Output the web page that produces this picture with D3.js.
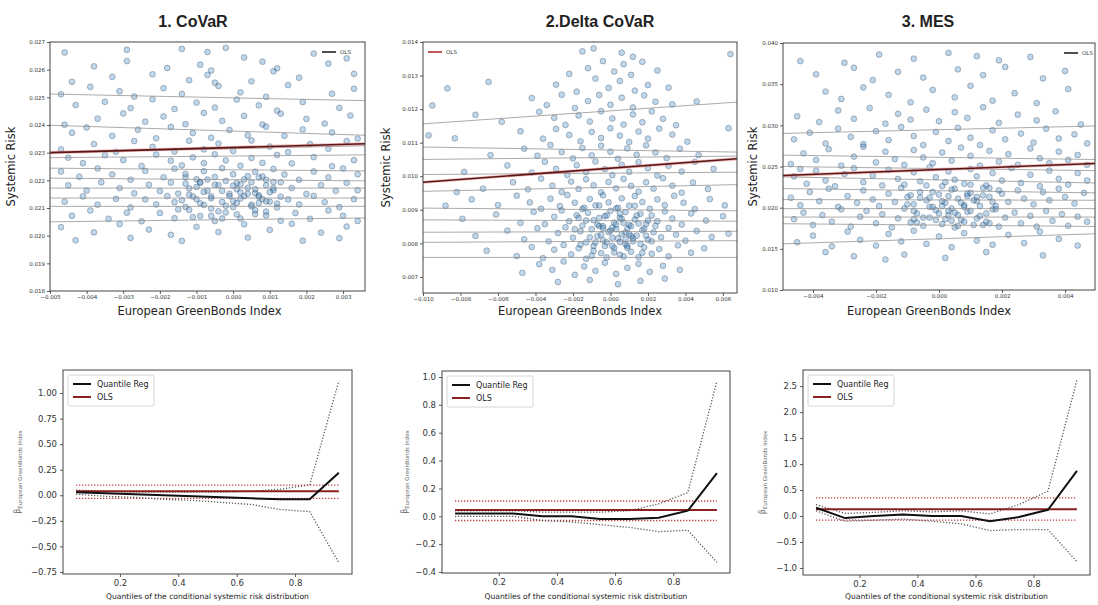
<!DOCTYPE html>
<html><head><meta charset="utf-8">
<script src="https://cdn.jsdelivr.net/npm/d3@7"></script>
<style>body{margin:0;background:#fff}svg{display:block}</style>
</head><body>
<script>
// ---------------- DATA ----------------
const titles = ["1. CoVaR", "2.Delta CoVaR", "3. MES"];
const xLabelTop = "European GreenBonds Index";
const yLabelTop = "Systemic Risk";
const xLabelBottom = "Quantiles of the conditional systemic risk distribution";
const legendQR = "Quantile Reg";
const legendOLS = "OLS";

// top scatter x/y ticks
const p1XTicks = [-0.005,-0.004,-0.003,-0.002,-0.001,0.000,0.001,0.002,0.003];
const p1YTicks = [0.018,0.019,0.020,0.021,0.022,0.023,0.024,0.025,0.026,0.027];
const p2XTicks = [-0.010,-0.008,-0.006,-0.004,-0.002,0.000,0.002,0.004,0.006];
const p2YTicks = [0.007,0.008,0.009,0.010,0.011,0.012,0.013,0.014];
const p3XTicks = [-0.004,-0.002,0.000,0.002,0.004];
const p3YTicks = [0.010,0.015,0.020,0.025,0.030,0.035,0.040];

// scatter points [index return, systemic risk]
const p1Points = [
[-0.0046,0.02662],[-0.0029,0.02672],[-0.0014,0.02675],[-0.0002,0.02679],[0.0022,0.02658],[-0.0007,0.02664],[0.0031,0.02641],
[-0.0038,0.02612],[-0.0029,0.02631],[-0.0018,0.02606],[-0.0009,0.02618],[-0.0006,0.02597],[0.0003,0.02644],[0.0008,0.02629],[0.0026,0.02622],[0.0012,0.02605],
[-0.0044,0.02556],[-0.0033,0.02574],[-0.0022,0.02583],[-0.0012,0.02562],[-0.0007,0.02581],[0.0005,0.02558],[0.0011,0.02594],[0.0018,0.02571],[0.0033,0.02585],[-0.0005,0.02553],
[-0.0047,0.02511],[-0.0039,0.02538],[-0.0031,0.02522],[-0.0027,0.02503],[-0.0019,0.02533],[-0.0014,0.02512],[-0.0004,0.02541],[0.0002,0.02518],[0.0009,0.02502],[0.0015,0.02544],[0.0027,0.02513],[0.0033,0.02531],
[-0.0043,0.02472],[-0.0035,0.02484],[-0.0028,0.02461],[-0.0022,0.02493],[-0.0016,0.02458],[-0.0010,0.02481],[-0.0005,0.02463],[0.0001,0.02492],[0.0007,0.02471],[0.0012,0.02452],[0.0019,0.02483],[0.0029,0.02462],
[-0.0046,0.02401],[-0.0037,0.02423],[-0.0030,0.02442],[-0.0024,0.02412],[-0.0019,0.02431],[-0.0013,0.02403],[-0.0008,0.02444],[-0.0003,0.02415],[0.0003,0.02433],[0.0008,0.02402],[0.0013,0.02441],[0.0020,0.02422],[0.0025,0.02405],[0.0032,0.02434],
[-0.0044,0.02372],[-0.0040,0.02391],[-0.0033,0.02361],[-0.0026,0.02383],[-0.0021,0.02352],[-0.0017,0.02393],[-0.0011,0.02371],[-0.0006,0.02354],[-0.0001,0.02382],[0.0004,0.02363],[0.0009,0.02394],[0.0014,0.02361],[0.0019,0.02384],[0.0027,0.02373],[0.0034,0.02351],
[-0.0047,0.02312],[-0.0038,0.02331],[-0.0032,0.02303],[-0.0027,0.02342],[-0.0022,0.02321],[-0.0016,0.02304],[-0.0012,0.02343],[-0.0008,0.02312],[-0.0004,0.02333],[0.0000,0.02306],[0.0005,0.02344],[0.0010,0.02322],[0.0015,0.02302],[0.0021,0.02331],[0.0026,0.02314],[0.0031,0.02342],
[-0.0045,0.02282],[-0.0041,0.02262],[-0.0035,0.02291],[-0.0030,0.02273],[-0.0025,0.02252],[-0.0021,0.02293],[-0.0017,0.02271],[-0.0014,0.02254],[-0.0011,0.02283],[-0.0008,0.02262],[-0.0005,0.02294],[-0.0002,0.02272],[0.0002,0.02253],[0.0005,0.02281],[0.0008,0.02263],[0.0012,0.02292],[0.0016,0.02261],[0.0022,0.02284],[0.0027,0.02251],[0.0033,0.02273],
[-0.0047,0.02232],[-0.0042,0.02213],[-0.0037,0.02243],[-0.0033,0.02221],[-0.0028,0.02202],[-0.0024,0.02234],[-0.0019,0.02211],[-0.0016,0.02242],[-0.0013,0.02223],[-0.0010,0.02204],[-0.0008,0.02233],[-0.0005,0.02212],[-0.0003,0.02244],[0.0000,0.02222],[0.0003,0.02203],[0.0006,0.02231],[0.0008,0.02214],[0.0011,0.02241],[0.0014,0.02221],[0.0018,0.02202],[0.0022,0.02232],[0.0026,0.02211],[0.0030,0.02243],[0.0034,0.02222],
[-0.0045,0.02182],[-0.0040,0.02163],[-0.0036,0.02193],[-0.0031,0.02172],[-0.0027,0.02153],[-0.0023,0.02184],[-0.0020,0.02161],[-0.0017,0.02192],[-0.0015,0.02152],[-0.0012,0.02171],[-0.0009,0.02194],[-0.0007,0.02162],[-0.0004,0.02183],[-0.0001,0.02151],[0.0001,0.02191],[0.0004,0.02173],[0.0006,0.02154],[0.0009,0.02182],[0.0011,0.02164],[0.0013,0.02193],[0.0016,0.02172],[0.0020,0.02151],[0.0024,0.02183],[0.0028,0.02162],[0.0031,0.02191],[0.0034,0.02164],
[-0.0046,0.02123],[-0.0041,0.02142],[-0.0037,0.02112],[-0.0032,0.02133],[-0.0028,0.02102],[-0.0024,0.02131],[-0.0021,0.02113],[-0.0018,0.02143],[-0.0016,0.02121],[-0.0013,0.02104],[-0.0010,0.02132],[-0.0008,0.02111],[-0.0006,0.02142],[-0.0003,0.02122],[0.0000,0.02103],[0.0002,0.02134],[0.0005,0.02112],[0.0007,0.02141],[0.0010,0.02123],[0.0012,0.02102],[0.0015,0.02131],[0.0018,0.02113],[0.0022,0.02144],[0.0025,0.02121],[0.0029,0.02103],[0.0033,0.02132],
[-0.0044,0.02072],[-0.0039,0.02091],[-0.0034,0.02061],[-0.0029,0.02083],[-0.0025,0.02052],[-0.0020,0.02082],[-0.0016,0.02063],[-0.0012,0.02093],[-0.0009,0.02071],[-0.0005,0.02053],[-0.0002,0.02084],[0.0002,0.02062],[0.0006,0.02092],[0.0009,0.02073],[0.0013,0.02054],[0.0017,0.02082],[0.0021,0.02061],[0.0026,0.02091],[0.0030,0.02072],[0.0034,0.02053],
[-0.0047,0.02031],[-0.0038,0.02012],[-0.0031,0.02042],[-0.0023,0.02022],[-0.0017,0.02003],[-0.0010,0.02032],[-0.0004,0.02013],[0.0003,0.02041],[0.0010,0.02021],[0.0016,0.02043],[0.0024,0.02011],[0.0031,0.02033],
[-0.0043,0.01983],[-0.0028,0.01992],[-0.0014,0.01981],[0.0004,0.01993],[0.0019,0.01982],[0.0029,0.01991],
[-0.0011,0.02142],[-0.0006,0.02098],[0.0001,0.02168],[0.0007,0.02118],[-0.0013,0.02188],[0.0009,0.02202],[-0.0003,0.02062],[0.0004,0.02152],
[-0.0015,0.02095],[-0.0012,0.02148],[-0.0010,0.02176],[-0.0009,0.02117],[-0.0007,0.02203],[-0.0006,0.02135],[-0.0004,0.02088],[-0.0003,0.02162],[-0.0002,0.02198],[0.0000,0.02125],[0.0001,0.02077],[0.0002,0.02185],[0.0003,0.02143],[0.0005,0.02106],[0.0006,0.02168],[0.0007,0.02211],[0.0008,0.02132],[0.0009,0.02087],[0.0010,0.02157],[0.0011,0.02194],[0.0012,0.02116],[-0.0014,0.02128],[-0.0011,0.02067],[-0.0008,0.02158],[-0.0005,0.02184],[-0.0001,0.02143],[0.0004,0.02215],[0.0006,0.02078],[0.0009,0.02124],[0.0011,0.02172],[-0.0013,0.02211],[-0.0002,0.02108],[0.0002,0.02156],[0.0007,0.02146],[-0.0006,0.02071],[0.0000,0.02181],[0.0013,0.02141],[0.0005,0.02193],[-0.0009,0.02191],[0.0001,0.02118]
];

const p2Points = [
[-0.0015,0.01372],[-0.0009,0.01381],[0.0006,0.01368],[0.0012,0.01356],[0.0064,0.01364],
[-0.0012,0.01322],[-0.0004,0.01343],[0.0002,0.01312],[0.0007,0.01334],[0.0011,0.01302],[0.0017,0.01341],[0.0025,0.01315],[-0.0022,0.01305],
[-0.0087,0.01262],[-0.0065,0.01281],[-0.0029,0.01273],[-0.0018,0.01252],[-0.0008,0.01291],[-0.0001,0.01263],[0.0005,0.01284],[0.0013,0.01255],[0.0020,0.01272],[0.0031,0.01264],
[-0.0095,0.01211],[-0.0042,0.01233],[-0.0034,0.01212],[-0.0026,0.01243],[-0.0019,0.01203],[-0.0012,0.01224],[-0.0006,0.01242],[0.0000,0.01213],[0.0006,0.01234],[0.0012,0.01205],[0.0018,0.01241],[0.0024,0.01222],[0.0033,0.01214],[0.0046,0.01223],
[-0.0072,0.01183],[-0.0058,0.01162],[-0.0038,0.01192],[-0.0030,0.01174],[-0.0024,0.01153],[-0.0017,0.01181],[-0.0011,0.01163],[-0.0005,0.01194],[0.0001,0.01172],[0.0007,0.01154],[0.0012,0.01184],[0.0017,0.01161],[0.0022,0.01193],[0.0028,0.01171],[0.0035,0.01152],[0.0063,0.01143],
[-0.0097,0.01122],[-0.0083,0.01113],[-0.0048,0.01134],[-0.0036,0.01112],[-0.0029,0.01141],[-0.0022,0.01123],[-0.0016,0.01104],[-0.0010,0.01132],[-0.0005,0.01114],[0.0000,0.01143],[0.0005,0.01121],[0.0010,0.01102],[0.0015,0.01133],[0.0020,0.01112],[0.0026,0.01142],[0.0033,0.01124],[0.0041,0.01103],
[-0.0064,0.01063],[-0.0046,0.01082],[-0.0039,0.01061],[-0.0032,0.01093],[-0.0026,0.01072],[-0.0020,0.01053],[-0.0015,0.01084],[-0.0010,0.01062],[-0.0005,0.01091],[0.0000,0.01073],[0.0004,0.01052],[0.0009,0.01083],[0.0014,0.01064],[0.0019,0.01092],[0.0024,0.01071],[0.0030,0.01054],[0.0037,0.01082],[0.0047,0.01063],
[-0.0078,0.01013],[-0.0055,0.01032],[-0.0042,0.01011],[-0.0035,0.01043],[-0.0029,0.01022],[-0.0023,0.01004],[-0.0018,0.01033],[-0.0013,0.01012],[-0.0008,0.01044],[-0.0003,0.01021],[0.0001,0.01003],[0.0006,0.01034],[0.0010,0.01013],[0.0015,0.01042],[0.0020,0.01024],[0.0025,0.01002],[0.0031,0.01031],[0.0038,0.01014],[0.0045,0.01043],[0.0055,0.01022],
[-0.0068,0.00963],[-0.0052,0.00982],[-0.0044,0.00961],[-0.0037,0.00993],[-0.0031,0.00972],[-0.0026,0.00953],[-0.0021,0.00984],[-0.0017,0.00962],[-0.0013,0.00991],[-0.0009,0.00973],[-0.0005,0.00952],[-0.0001,0.00983],[0.0003,0.00964],[0.0007,0.00992],[0.0011,0.00971],[0.0015,0.00954],[0.0019,0.00982],[0.0023,0.00963],[0.0028,0.00994],[0.0033,0.00972],[0.0038,0.00951],[0.0044,0.00981],[0.0052,0.00962],[-0.0082,0.00953],
[-0.0088,0.00912],[-0.0074,0.00931],[-0.0060,0.00914],[-0.0050,0.00942],[-0.0043,0.00922],[-0.0037,0.00903],[-0.0032,0.00933],[-0.0027,0.00911],[-0.0023,0.00944],[-0.0019,0.00921],[-0.0015,0.00902],[-0.0011,0.00932],[-0.0008,0.00913],[-0.0004,0.00943],[-0.0001,0.00922],[0.0003,0.00904],[0.0006,0.00934],[0.0010,0.00912],[0.0013,0.00941],[0.0017,0.00923],[0.0021,0.00903],[0.0025,0.00931],[0.0029,0.00914],[0.0034,0.00942],[0.0039,0.00921],[0.0045,0.00902],[0.0053,0.00932],[0.0061,0.00913],
[-0.0079,0.00873],[-0.0061,0.00886],[-0.0048,0.00861],[-0.0041,0.00894],[-0.0035,0.00857],[-0.0030,0.00879],[-0.0026,0.00898],[-0.0022,0.00866],[-0.0018,0.00884],[-0.0015,0.00853],[-0.0012,0.00891],[-0.0009,0.00869],[-0.0006,0.00852],[-0.0003,0.00881],[0.0000,0.00897],[0.0002,0.00862],[0.0005,0.00876],[0.0008,0.00893],[0.0010,0.00855],[0.0013,0.00871],[0.0016,0.00888],[0.0019,0.00858],[0.0022,0.00883],[0.0025,0.00866],[0.0029,0.00895],[0.0033,0.00874],[0.0038,0.00856],[0.0043,0.00889],[0.0051,0.00868],[0.0060,0.00881],
[-0.0072,0.00822],[-0.0055,0.00838],[-0.0046,0.00812],[-0.0039,0.00845],[-0.0033,0.00806],[-0.0028,0.00831],[-0.0024,0.00848],[-0.0020,0.00817],[-0.0016,0.00836],[-0.0013,0.00803],[-0.0010,0.00842],[-0.0007,0.00821],[-0.0004,0.00809],[-0.0001,0.00834],[0.0001,0.00847],[0.0004,0.00815],[0.0006,0.00828],[0.0009,0.00844],[0.0012,0.00806],[0.0014,0.00823],[0.0017,0.00839],[0.0020,0.00811],[0.0023,0.00833],[0.0027,0.00818],[0.0031,0.00846],[0.0035,0.00826],[0.0040,0.00808],[0.0046,0.00837],[0.0054,0.00819],[0.0063,0.00829],
[-0.0066,0.00778],[-0.0050,0.00762],[-0.0042,0.00789],[-0.0036,0.00756],[-0.0030,0.00781],[-0.0025,0.00795],[-0.0021,0.00767],[-0.0017,0.00785],[-0.0013,0.00754],[-0.0009,0.00792],[-0.0005,0.00771],[-0.0002,0.00758],[0.0002,0.00786],[0.0005,0.00766],[0.0008,0.00797],[0.0011,0.00775],[0.0015,0.00759],[0.0018,0.00788],[0.0022,0.00769],[0.0026,0.00783],[0.0031,0.00761],[0.0036,0.00794],[0.0043,0.00772],[0.0050,0.00785],
[-0.0047,0.00712],[-0.0038,0.00738],[-0.0031,0.00721],[-0.0025,0.00746],[-0.0019,0.00706],[-0.0014,0.00731],[-0.0008,0.00718],[-0.0003,0.00742],[0.0003,0.00709],[0.0009,0.00727],[0.0015,0.00739],[0.0021,0.00715],[0.0028,0.00733],[0.0037,0.00721],
[-0.0028,0.00685],[-0.0011,0.00691],[0.0004,0.00678],[0.0016,0.00688],[0.0029,0.00695],
[0.0003,0.00842],[0.0007,0.00861],[-0.0002,0.00803],[0.0011,0.00822],[-0.0006,0.00876],[0.0001,0.00792],[0.0008,0.00812],[-0.0004,0.00851],
[-0.0019,0.00842],[-0.0016,0.00796],[-0.0013,0.00868],[-0.0011,0.00818],[-0.0009,0.00778],[-0.0007,0.00856],[-0.0005,0.00826],[-0.0003,0.00792],[-0.0002,0.00883],[0.0000,0.00838],[0.0002,0.00773],[0.0003,0.00856],[0.0005,0.00804],[0.0006,0.00873],[0.0008,0.00832],[0.0009,0.00787],[0.0011,0.00851],[0.0012,0.00815],[0.0014,0.00883],[0.0016,0.00798],[0.0018,0.00844],[0.0020,0.00868],[0.0022,0.00806],[0.0024,0.00852],[-0.0014,0.00906],[-0.0006,0.00913],[0.0004,0.00906],[0.0013,0.00912],[-0.0010,0.00763],[0.0007,0.00761],[0.0017,0.00772],[-0.0004,0.00845],[0.0001,0.00817],[0.0010,0.00827],[0.0015,0.00859],[-0.0008,0.00803],[0.0019,0.00823],[-0.0017,0.00876],[0.0005,0.00889],[0.0009,0.00793]
];

const p3Points = [
[-0.0044,0.0378],[-0.0019,0.0386],[-0.0008,0.0381],[0.0003,0.0388],[0.0012,0.0384],[0.0019,0.0379],[0.0029,0.0383],[-0.0030,0.0376],
[-0.0039,0.0362],[-0.0027,0.0370],[-0.0013,0.0365],[-0.0005,0.0358],[0.0006,0.0368],[0.0014,0.0361],[0.0021,0.0371],[0.0033,0.0357],[0.0040,0.0366],[-0.0021,0.0355],
[-0.0036,0.0341],[-0.0031,0.0332],[-0.0024,0.0346],[-0.0016,0.0337],[-0.0009,0.0328],[-0.0002,0.0343],[0.0005,0.0334],[0.0010,0.0348],[0.0017,0.0330],[0.0024,0.0339],[0.0031,0.0327],[0.0041,0.0344],
[-0.0045,0.0311],[-0.0038,0.0304],[-0.0032,0.0318],[-0.0027,0.0308],[-0.0022,0.0321],[-0.0017,0.0302],[-0.0013,0.0314],[-0.0009,0.0307],[-0.0004,0.0319],[0.0000,0.0305],[0.0005,0.0316],[0.0009,0.0309],[0.0014,0.0322],[0.0019,0.0303],[0.0025,0.0313],[0.0031,0.0306],[0.0037,0.0317],[0.0045,0.0301],
[-0.0046,0.0283],[-0.0041,0.0291],[-0.0036,0.0278],[-0.0032,0.0296],[-0.0028,0.0286],[-0.0024,0.0277],[-0.0020,0.0293],[-0.0016,0.0282],[-0.0012,0.0298],[-0.0008,0.0287],[-0.0005,0.0276],[-0.0001,0.0292],[0.0003,0.0281],[0.0006,0.0297],[0.0010,0.0285],[0.0013,0.0276],[0.0017,0.0294],[0.0021,0.0283],[0.0026,0.0290],[0.0030,0.0279],[0.0034,0.0296],[0.0038,0.0284],[0.0043,0.0289],[0.0047,0.0278],
[-0.0047,0.0253],[-0.0043,0.0266],[-0.0039,0.0258],[-0.0035,0.0271],[-0.0031,0.0251],[-0.0027,0.0262],[-0.0024,0.0274],[-0.0020,0.0255],[-0.0017,0.0268],[-0.0014,0.0259],[-0.0011,0.0252],[-0.0008,0.0270],[-0.0005,0.0261],[-0.0002,0.0254],[0.0001,0.0267],[0.0004,0.0257],[0.0007,0.0273],[0.0010,0.0263],[0.0013,0.0251],[0.0016,0.0269],[0.0019,0.0256],[0.0022,0.0265],[0.0025,0.0252],[0.0029,0.0272],[0.0032,0.0260],[0.0035,0.0254],[0.0038,0.0268],[0.0041,0.0258],[0.0044,0.0264],[0.0047,0.0252],
[-0.0046,0.0238],[-0.0042,0.0229],[-0.0039,0.0245],[-0.0036,0.0233],[-0.0033,0.0226],[-0.0030,0.0241],[-0.0027,0.0248],[-0.0024,0.0231],[-0.0021,0.0239],[-0.0018,0.0227],[-0.0016,0.0246],[-0.0013,0.0235],[-0.0011,0.0228],[-0.0008,0.0243],[-0.0006,0.0232],[-0.0003,0.0249],[-0.0001,0.0237],[0.0001,0.0226],[0.0003,0.0244],[0.0005,0.0234],[0.0008,0.0229],[0.0010,0.0247],[0.0012,0.0238],[0.0015,0.0227],[0.0017,0.0242],[0.0020,0.0233],[0.0023,0.0248],[0.0026,0.0230],[0.0029,0.0240],[0.0032,0.0226],[0.0035,0.0245],[0.0038,0.0235],[0.0041,0.0228],[0.0044,0.0242],[0.0047,0.0233],[-0.0044,0.0247],
[-0.0047,0.0212],[-0.0044,0.0203],[-0.0041,0.0219],[-0.0038,0.0208],[-0.0035,0.0223],[-0.0032,0.0201],[-0.0029,0.0214],[-0.0026,0.0206],[-0.0024,0.0221],[-0.0021,0.0210],[-0.0019,0.0202],[-0.0016,0.0217],[-0.0014,0.0207],[-0.0012,0.0224],[-0.0010,0.0213],[-0.0008,0.0204],[-0.0006,0.0219],[-0.0004,0.0209],[-0.0002,0.0201],[0.0000,0.0216],[0.0002,0.0206],[0.0004,0.0222],[0.0006,0.0211],[0.0008,0.0203],[0.0010,0.0218],[0.0012,0.0208],[0.0014,0.0224],[0.0016,0.0213],[0.0018,0.0202],[0.0020,0.0217],[0.0022,0.0207],[0.0025,0.0221],[0.0027,0.0211],[0.0030,0.0204],[0.0033,0.0219],[0.0035,0.0209],[0.0038,0.0223],[0.0040,0.0213],[0.0043,0.0205],[0.0046,0.0218],[-0.0003,0.0212],[0.0009,0.0214],
[-0.0046,0.0186],[-0.0043,0.0194],[-0.0040,0.0179],[-0.0037,0.0191],[-0.0034,0.0183],[-0.0031,0.0198],[-0.0028,0.0177],[-0.0025,0.0189],[-0.0023,0.0196],[-0.0020,0.0181],[-0.0018,0.0192],[-0.0015,0.0176],[-0.0013,0.0187],[-0.0011,0.0199],[-0.0009,0.0182],[-0.0007,0.0193],[-0.0005,0.0178],[-0.0003,0.0188],[-0.0001,0.0197],[0.0001,0.0180],[0.0003,0.0191],[0.0005,0.0176],[0.0007,0.0185],[0.0009,0.0195],[0.0011,0.0179],[0.0013,0.0190],[0.0015,0.0183],[0.0017,0.0198],[0.0019,0.0177],[0.0021,0.0188],[0.0024,0.0194],[0.0026,0.0181],[0.0029,0.0190],[0.0031,0.0177],[0.0034,0.0196],[0.0036,0.0184],[0.0039,0.0192],[0.0041,0.0178],[0.0044,0.0189],[0.0047,0.0183],[0.0004,0.0184],[-0.0008,0.0186],
[-0.0045,0.0158],[-0.0040,0.0166],[-0.0034,0.0153],[-0.0029,0.0171],[-0.0025,0.0161],[-0.0020,0.0154],[-0.0016,0.0168],[-0.0012,0.0159],[-0.0008,0.0172],[-0.0004,0.0156],[0.0000,0.0165],[0.0004,0.0152],[0.0008,0.0169],[0.0012,0.0160],[0.0017,0.0155],[0.0022,0.0167],[0.0027,0.0157],[0.0032,0.0171],[0.0038,0.0162],[0.0044,0.0154],
[-0.0036,0.0146],[-0.0027,0.0141],[-0.0017,0.0137],[-0.0011,0.0143],[0.0002,0.0139],[0.0015,0.0146],[0.0033,0.0142],
[-0.0010,0.0204],[-0.0008,0.0196],[-0.0006,0.0212],[-0.0005,0.0188],[-0.0003,0.0201],[-0.0002,0.0219],[0.0000,0.0193],[0.0001,0.0208],[0.0002,0.0186],[0.0003,0.0214],[0.0004,0.0199],[0.0005,0.0223],[0.0006,0.0191],[0.0007,0.0206],[0.0008,0.0183],[0.0009,0.0217],[0.0010,0.0196],[0.0011,0.0209],[0.0012,0.0187],[0.0013,0.0202],[0.0014,0.0215],[0.0015,0.0193],[0.0016,0.0181],[0.0017,0.0207],[0.0018,0.0198],[0.0019,0.0221],[-0.0007,0.0182],[-0.0004,0.0227],[0.0002,0.0231],[0.0006,0.0178],[0.0010,0.0228],[0.0014,0.0179],[-0.0001,0.0185],[0.0003,0.0196],[0.0008,0.0201],[0.0012,0.0213],[-0.0009,0.0215],[0.0016,0.0224],[0.0001,0.0202],[0.0005,0.0194]
];

// quantile regression fitted lines: value at left end / right end of x range
const p1QLeft  = [0.02050,0.02106,0.02136,0.02172,0.02208,0.02244,0.02282,0.02300,0.02399,0.02512];
const p1QRight = [0.02064,0.02106,0.02136,0.02172,0.02198,0.02234,0.02292,0.02325,0.02363,0.02488];
const p1OLS = [0.02300,0.02332];
const p2QLeft  = [0.00758,0.00803,0.00833,0.00870,0.00905,0.00955,0.01005,0.01050,0.01087,0.01156];
const p2QRight = [0.00758,0.00808,0.00836,0.00866,0.00897,0.00975,0.01012,0.01060,0.01072,0.01221];
const p2OLS = [0.00982,0.01052];
const p3QLeft  = [0.01561,0.01805,0.01886,0.01988,0.02098,0.02232,0.02374,0.02500,0.02638,0.02902];
const p3QRight = [0.01683,0.01772,0.01886,0.01988,0.02090,0.02180,0.02300,0.02450,0.02585,0.02992];
const p3OLS = [0.02390,0.02537];

// bottom coefficient plots
const quantiles = [0.05,0.15,0.25,0.35,0.45,0.55,0.65,0.75,0.85,0.95];
const bXTicks = [0.2,0.4,0.6,0.8];
const b1QR = [0.03,0.02,0.01,0.00,-0.01,-0.02,-0.03,-0.04,-0.04,0.22];
const b1Up = [0.05,0.04,0.03,0.03,0.03,0.03,0.04,0.06,0.10,1.12];
const b1Lo = [0.01,-0.01,-0.02,-0.04,-0.05,-0.07,-0.09,-0.14,-0.16,-0.66];
const b1OLS = [0.04,0.10,-0.03];
const b1YTicks = [-0.75,-0.50,-0.25,0.00,0.25,0.50,0.75,1.00];
const b2QR = [0.02,0.02,0.02,0.00,0.00,-0.02,-0.02,-0.01,0.04,0.31];
const b2Up = [0.04,0.04,0.04,0.03,0.03,0.03,0.04,0.09,0.17,0.97];
const b2Lo = [0.00,0.00,0.00,-0.03,-0.04,-0.06,-0.08,-0.11,-0.10,-0.33];
const b2OLS = [0.045,0.11,-0.03];
const b2YTicks = [-0.4,-0.2,0.0,0.2,0.4,0.6,0.8,1.0];
const b3QR = [0.16,-0.04,0.00,0.03,0.00,0.00,-0.10,-0.02,0.12,0.87];
const b3Up = [0.22,0.05,0.07,0.10,0.08,0.10,0.04,0.22,0.48,2.62];
const b3Lo = [0.10,-0.10,-0.08,-0.06,-0.10,-0.15,-0.28,-0.26,-0.26,-0.88];
const b3OLS = [0.13,0.35,-0.08];
const b3YTicks = [-1.0,-0.5,0.0,0.5,1.0,1.5,2.0,2.5];

// ---------------- DRAW ----------------
const W = 1098, H = 605;
const svg = d3.select("body").append("svg").attr("width", W).attr("height", H);
const FONT = "DejaVu Sans, sans-serif";
let clipId = 0;

function styleAxis(g, size) {
  g.select(".domain").remove();
  g.selectAll(".tick line").attr("stroke", "#333").attr("stroke-width", 0.8);
  g.selectAll(".tick text").attr("font-family", FONT).attr("font-size", size).attr("fill", "#333");
}

function topPanel(o) {
  const x = d3.scaleLinear().domain(o.xDom).range([o.x0, o.x1]);
  const y = d3.scaleLinear().domain(o.yDom).range([o.y1, o.y0]);
  const id = "clip" + (clipId++);
  svg.append("clipPath").attr("id", id).append("rect")
    .attr("x", o.x0).attr("y", o.y0).attr("width", o.x1 - o.x0).attr("height", o.y1 - o.y0);
  const g = svg.append("g").attr("clip-path", `url(#${id})`);
  g.selectAll("circle").data(o.pts).join("circle")
    .attr("cx", d => x(d[0])).attr("cy", d => y(d[1])).attr("r", 2.9)
    .attr("fill", "#2f78b5").attr("fill-opacity", 0.3)
    .attr("stroke", "#2c4560").attr("stroke-opacity", 0.5).attr("stroke-width", 0.7);
  g.selectAll("line.q").data(d3.zip(o.qL, o.qR)).join("line").attr("class", "q")
    .attr("x1", x(o.xDom[0])).attr("x2", x(o.xDom[1]))
    .attr("y1", d => y(d[0])).attr("y2", d => y(d[1]))
    .attr("stroke", "#8a8a8a").attr("stroke-width", 0.9).attr("stroke-opacity", 0.8);
  g.append("line").attr("x1", x(o.xDom[0])).attr("x2", x(o.xDom[1]))
    .attr("y1", y(o.ols[0])).attr("y2", y(o.ols[1]))
    .attr("stroke", "#e08080").attr("stroke-width", 3.2).attr("stroke-opacity", 0.5);
  g.append("line").attr("x1", x(o.xDom[0])).attr("x2", x(o.xDom[1]))
    .attr("y1", y(o.ols[0])).attr("y2", y(o.ols[1]))
    .attr("stroke", "#5a1515").attr("stroke-width", 1.6);
  svg.append("rect").attr("x", o.x0).attr("y", o.y0).attr("width", o.x1 - o.x0).attr("height", o.y1 - o.y0)
    .attr("fill", "none").attr("stroke", "#444").attr("stroke-width", 1);
  const fmt = d3.format(".3f");
  svg.append("g").attr("transform", `translate(0,${o.y1})`)
    .call(d3.axisBottom(x).tickValues(o.xTicks).tickFormat(fmt).tickSize(3).tickPadding(1.5))
    .call(g => styleAxis(g, 5.5));
  svg.append("g").attr("transform", `translate(${o.x0},0)`)
    .call(d3.axisLeft(y).tickValues(o.yTicks).tickFormat(fmt).tickSize(3).tickPadding(2))
    .call(g => styleAxis(g, 5.5));
  // title & labels
  svg.append("text").attr("x", o.titleX).attr("y", 27).attr("text-anchor", "middle")
    .attr("font-family", "Liberation Sans, Arial, sans-serif").attr("font-weight", "bold")
    .attr("font-size", 16).attr("fill", "#222").text(o.title);
  svg.append("text").attr("x", (o.x0 + o.x1) / 2 + o.xlOff).attr("y", 315).attr("text-anchor", "middle")
    .attr("font-family", FONT).attr("font-size", 11.5).attr("fill", "#222").text(xLabelTop);
  svg.append("text").attr("transform", `translate(${o.ylX},${(o.y0 + o.y1) / 2}) rotate(-90)`)
    .attr("text-anchor", "middle").attr("font-family", FONT).attr("font-size", 11.5).attr("fill", "#222")
    .text(yLabelTop);
  // legend
  const ly = o.y0 + 10;
  svg.append("line").attr("x1", o.legX).attr("x2", o.legX + 14).attr("y1", ly).attr("y2", ly)
    .attr("stroke", o.legColor).attr("stroke-width", 1.6);
  svg.append("text").attr("x", o.legX + 18).attr("y", ly + 2).attr("font-family", FONT)
    .attr("font-size", 5.5).attr("fill", "#333").text(legendOLS);
}

topPanel({title: titles[0], titleX: 193, x0: 50, x1: 365, y0: 42, y1: 291,
  xDom: [-0.005, 0.0036], yDom: [0.018, 0.027], xTicks: p1XTicks, yTicks: p1YTicks,
  pts: p1Points, qL: p1QLeft, qR: p1QRight, ols: p1OLS, ylX: 15, xlOff: -8,
  legX: 322, legColor: "#222"});
topPanel({title: titles[1], titleX: 600, x0: 423, x1: 737, y0: 42, y1: 293,
  xDom: [-0.010, 0.00675], yDom: [0.00652, 0.014], xTicks: p2XTicks, yTicks: p2YTicks,
  pts: p2Points, qL: p2QLeft, qR: p2QRight, ols: p2OLS, ylX: 390, xlOff: 0,
  legX: 428, legColor: "#b03030"});
topPanel({title: titles[2], titleX: 928, x0: 783, x1: 1095, y0: 43, y1: 290,
  xDom: [-0.00495, 0.00495], yDom: [0.010, 0.040], xTicks: p3XTicks, yTicks: p3YTicks,
  pts: p3Points, qL: p3QLeft, qR: p3QRight, ols: p3OLS, ylX: 757, xlOff: -10,
  legX: 1064, legColor: "#222"});

function bottomPanel(o) {
  const x = d3.scaleLinear().domain([0.005, 0.995]).range([o.x0, o.x1]);
  const y = d3.scaleLinear().domain(o.yDom).range([o.y1, o.y0]);
  const id = "clip" + (clipId++);
  svg.append("clipPath").attr("id", id).append("rect")
    .attr("x", o.x0).attr("y", o.y0).attr("width", o.x1 - o.x0).attr("height", o.y1 - o.y0);
  const g = svg.append("g").attr("clip-path", `url(#${id})`);
  const line = d3.line().x((d, i) => x(quantiles[i])).y(d => y(d));
  const xa = x(quantiles[0]), xb = x(quantiles[quantiles.length - 1]);
  g.append("line").attr("x1", xa).attr("x2", xb).attr("y1", y(o.ols[1])).attr("y2", y(o.ols[1]))
    .attr("stroke", "#c03030").attr("stroke-width", 1.3).attr("stroke-dasharray", "1.2,1.8");
  g.append("line").attr("x1", xa).attr("x2", xb).attr("y1", y(o.ols[2])).attr("y2", y(o.ols[2]))
    .attr("stroke", "#c03030").attr("stroke-width", 1.3).attr("stroke-dasharray", "1.2,1.8");
  [o.up, o.lo].forEach(arr => g.append("path").attr("d", line(arr)).attr("fill", "none")
    .attr("stroke", "#555").attr("stroke-width", 1.3).attr("stroke-dasharray", "1.2,1.8"));
  g.append("line").attr("x1", xa).attr("x2", xb).attr("y1", y(o.ols[0])).attr("y2", y(o.ols[0]))
    .attr("stroke", "#8a1f1f").attr("stroke-width", 2);
  g.append("path").attr("d", line(o.qr)).attr("fill", "none").attr("stroke", "#111").attr("stroke-width", 2);
  svg.append("rect").attr("x", o.x0).attr("y", o.y0).attr("width", o.x1 - o.x0).attr("height", o.y1 - o.y0)
    .attr("fill", "none").attr("stroke", "#444").attr("stroke-width", 1);
  svg.append("g").attr("transform", `translate(0,${o.y1})`)
    .call(d3.axisBottom(x).tickValues(bXTicks).tickFormat(d3.format(".1f")).tickSize(3).tickPadding(3))
    .call(g => styleAxis(g, 8.5));
  svg.append("g").attr("transform", `translate(${o.x0},0)`)
    .call(d3.axisLeft(y).tickValues(o.yTicks).tickFormat(d3.format(o.yFmt)).tickSize(3).tickPadding(3))
    .call(g => styleAxis(g, 8.5));
  svg.append("text").attr("x", (o.x0 + o.x1) / 2).attr("y", 599).attr("text-anchor", "middle")
    .attr("font-family", FONT).attr("font-size", 7.6).attr("fill", "#222").text(xLabelBottom);
  const yl = svg.append("text").attr("transform", `translate(${o.ylX},${(o.y0 + o.y1) / 2}) rotate(-90)`)
    .attr("text-anchor", "middle").attr("font-family", FONT).attr("fill", "#666");
  yl.append("tspan").attr("font-size", 8).text("β");
  yl.append("tspan").attr("font-size", 5.5).attr("dy", 2).text("European GreenBonds Index");
  const lx = o.x0 + 5, ly = o.y0 + 5;
  svg.append("rect").attr("x", lx).attr("y", ly).attr("width", 86).attr("height", 31)
    .attr("fill", "#fff").attr("stroke", "#ccc").attr("stroke-width", 0.8).attr("rx", 1.5);
  [[legendQR, "#111"], [legendOLS, "#8a1f1f"]].forEach((d, i) => {
    const yy = ly + 9 + i * 13;
    svg.append("line").attr("x1", lx + 5).attr("x2", lx + 23).attr("y1", yy).attr("y2", yy)
      .attr("stroke", d[1]).attr("stroke-width", 2);
    svg.append("text").attr("x", lx + 29).attr("y", yy + 3).attr("font-family", FONT)
      .attr("font-size", 8).attr("fill", "#222").text(d[0]);
  });
}

bottomPanel({x0: 63, x1: 352, y0: 370, y1: 574, yDom: [-0.77, 1.225], yTicks: b1YTicks, yFmt: ".2f",
  qr: b1QR, up: b1Up, lo: b1Lo, ols: b1OLS, ylX: 20});
bottomPanel({x0: 442, x1: 730, y0: 371, y1: 573, yDom: [-0.407, 1.043], yTicks: b2YTicks, yFmt: ".1f",
  qr: b2QR, up: b2Up, lo: b2Lo, ols: b2OLS, ylX: 407});
bottomPanel({x0: 803, x1: 1090, y0: 370, y1: 575, yDom: [-1.135, 2.81], yTicks: b3YTicks, yFmt: ".1f",
  qr: b3QR, up: b3Up, lo: b3Lo, ols: b3OLS, ylX: 765});
</script>
</body></html>
